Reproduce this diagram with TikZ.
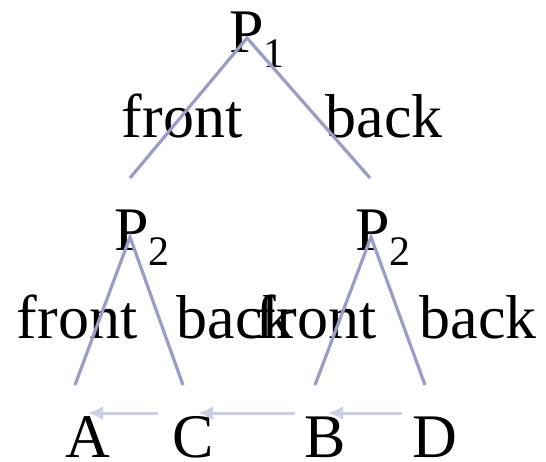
\documentclass[tikz,border=0pt]{standalone}
\usepackage{fontspec}
\setmainfont{Liberation Serif}
\usetikzlibrary{arrows.meta}
\definecolor{edgecol}{HTML}{9C9CCB}
\definecolor{arrcol}{HTML}{CDCDE8}
\tikzset{
  lbl/.style={anchor=base, inner sep=0pt, font=\fontsize{62}{62}\selectfont},
  edge/.style={draw=edgecol, line width=3.2pt},
  order/.style={draw=arrcol, line width=3pt, -{Latex[length=15pt,width=14pt]}},
}
\newcommand{\psub}[1]{P\raisebox{-15pt}{\fontsize{42}{42}\selectfont #1}}
\begin{document}
\begin{tikzpicture}[x=1pt,y=-1pt]
\useasboundingbox (0,0) rectangle (546,461);
% text nodes
\node[lbl] (p1) at (257,52) {\psub{1}};
\node[lbl] (p2l) at (142,250) {\psub{2}};
\node[lbl] (p2r) at (383,250) {\psub{2}};
\node[lbl] (f1) at (182,137) {front};
\node[lbl] (b1) at (384,137) {back};
\node[lbl] (f2) at (77,338) {front};
\node[lbl] (b2) at (235,338) {back};
\node[lbl] (f3) at (316,338) {front};
\node[lbl] (b3) at (478,338) {back};
\node[lbl] (A) at (88,457) {A};
\node[lbl] (C) at (193,457) {C};
\node[lbl] (B) at (325,457) {B};
\node[lbl] (D) at (435,457) {D};
% edge endpoints
\coordinate (t1) at (247,38);
\coordinate (e1) at (130,178);
\coordinate (e2) at (370,178);
\coordinate (t2) at (130,237);
\coordinate (t3) at (371,237);
\coordinate (eA) at (75,385);
\coordinate (eC) at (183,385);
\coordinate (eB) at (315,385);
\coordinate (eD) at (425,385);
\draw[edge] (e1) -- (t1) -- (e2);
\draw[edge] (eA) -- (t2) -- (eC);
\draw[edge] (eB) -- (t3) -- (eD);
% order arrows
\coordinate (aC) at (158,413);
\coordinate (aA) at (88,413);
\coordinate (aB) at (295,413);
\coordinate (aC2) at (198,413);
\coordinate (aD) at (402,413);
\coordinate (aB2) at (328,413);
\draw[order] (aC) -- (aA);
\draw[order] (aB) -- (aC2);
\draw[order] (aD) -- (aB2);
\end{tikzpicture}
\end{document}
